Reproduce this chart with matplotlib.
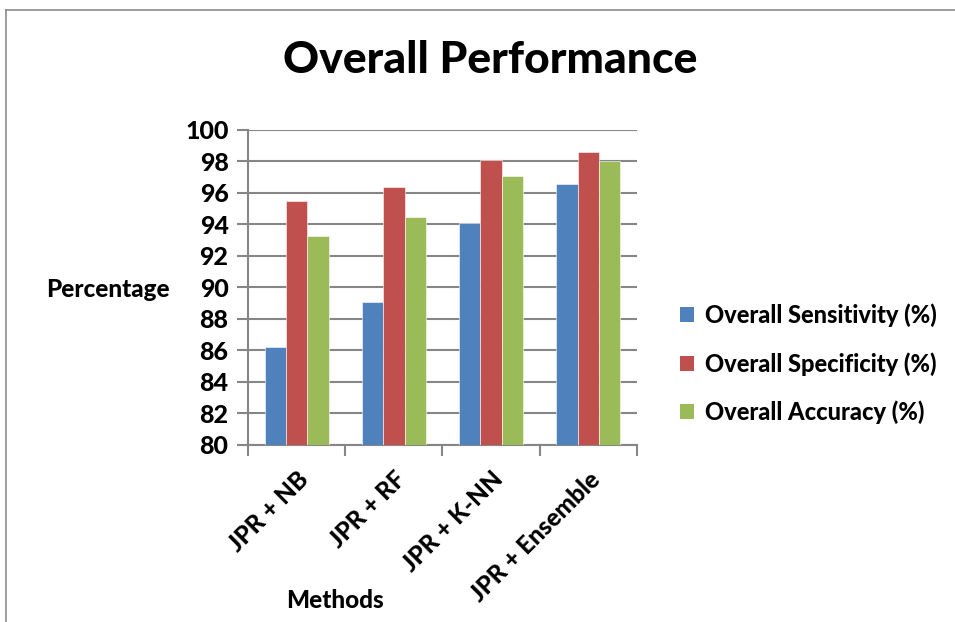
import numpy as np
import matplotlib.pyplot as plt
from matplotlib.lines import Line2D
from matplotlib.patches import Patch

methods = ["JPR + NB", "JPR + RF", "JPR + K-NN", "JPR + Ensemble"]
series = ["Overall Sensitivity (%)", "Overall Specificity (%)", "Overall Accuracy (%)"]
sensitivity = [86.2, 89.1, 94.1, 96.6]
specificity = [95.5, 96.4, 98.1, 98.6]
accuracy = [93.3, 94.5, 97.1, 98.0]
colors = ["#4F81BD", "#C0504D", "#9BBB59"]

plt.rcParams["font.family"] = ["Lato", "DejaVu Sans"]
WT = "black"

fig = plt.figure(figsize=(9.55, 6.22), dpi=100)
ax = fig.add_axes([0.2597, 0.2846, 0.4073, 0.5064])

x = np.arange(len(methods))
w = 0.22
for i, vals in enumerate([sensitivity, specificity, accuracy]):
    ax.bar(x + (i - 1) * w, vals, w, color=colors[i], edgecolor="white",
           linewidth=0.4, zorder=3)

ax.set_ylim(80, 100)
ax.set_xlim(-0.5, len(methods) - 0.5)
ax.set_yticks(np.arange(80, 101, 2))
ax.grid(axis="y", color="#868686", linewidth=1.5, zorder=0)
for s in ["top", "right"]:
    ax.spines[s].set_visible(False)
for s in ["left", "bottom"]:
    ax.spines[s].set_color("#868686")
    ax.spines[s].set_linewidth(1.5)
ax.tick_params(axis="y", length=8, width=1.5, color="#868686", labelsize=18, pad=6)
ax.tick_params(axis="x", which="major", length=0)
ax.set_xticks(x)
ax.set_xticklabels([])
ax.set_xticks(np.arange(-0.5, len(methods)), minor=True)
ax.tick_params(axis="x", which="minor", length=8, width=1.5, color="#868686")
for lab in ax.get_yticklabels():
    lab.set_fontweight(WT)

# rotated category labels ending just below each group
for xi, name in zip(x, methods):
    ax.annotate(name, xy=(xi, 80), xycoords="data", xytext=(6, -22),
                textcoords="offset points", rotation=45, ha="right", va="center",
                rotation_mode="anchor", fontsize=17.5, fontweight=WT)

fig.text(0.513, 0.9035, "Overall Performance", ha="center", va="center",
         fontsize=32, fontweight=WT)
fig.text(0.113, 0.534, "Percentage", ha="center", va="center", fontsize=17.5,
         fontweight=WT)
fig.text(0.351, 0.035, "Methods", ha="center", va="center", fontsize=17.5,
         fontweight=WT)

handles = [Patch(facecolor=c, edgecolor="none") for c in colors]
fig.legend(handles, series, loc="center left", bbox_to_anchor=(0.690, 0.415),
           frameon=False, prop={"size": 17, "weight": WT},
           handlelength=0.6, handleheight=0.6, handletextpad=0.45,
           labelspacing=1.05)

# outer chart frame
fig.add_artist(Line2D([6 / 955, 1], [612 / 622, 612 / 622], color="#8c8c8c", lw=1.2))
fig.add_artist(Line2D([6 / 955, 6 / 955], [0, 612 / 622], color="#8c8c8c", lw=1.2))

fig.savefig("out.png", dpi=100)
